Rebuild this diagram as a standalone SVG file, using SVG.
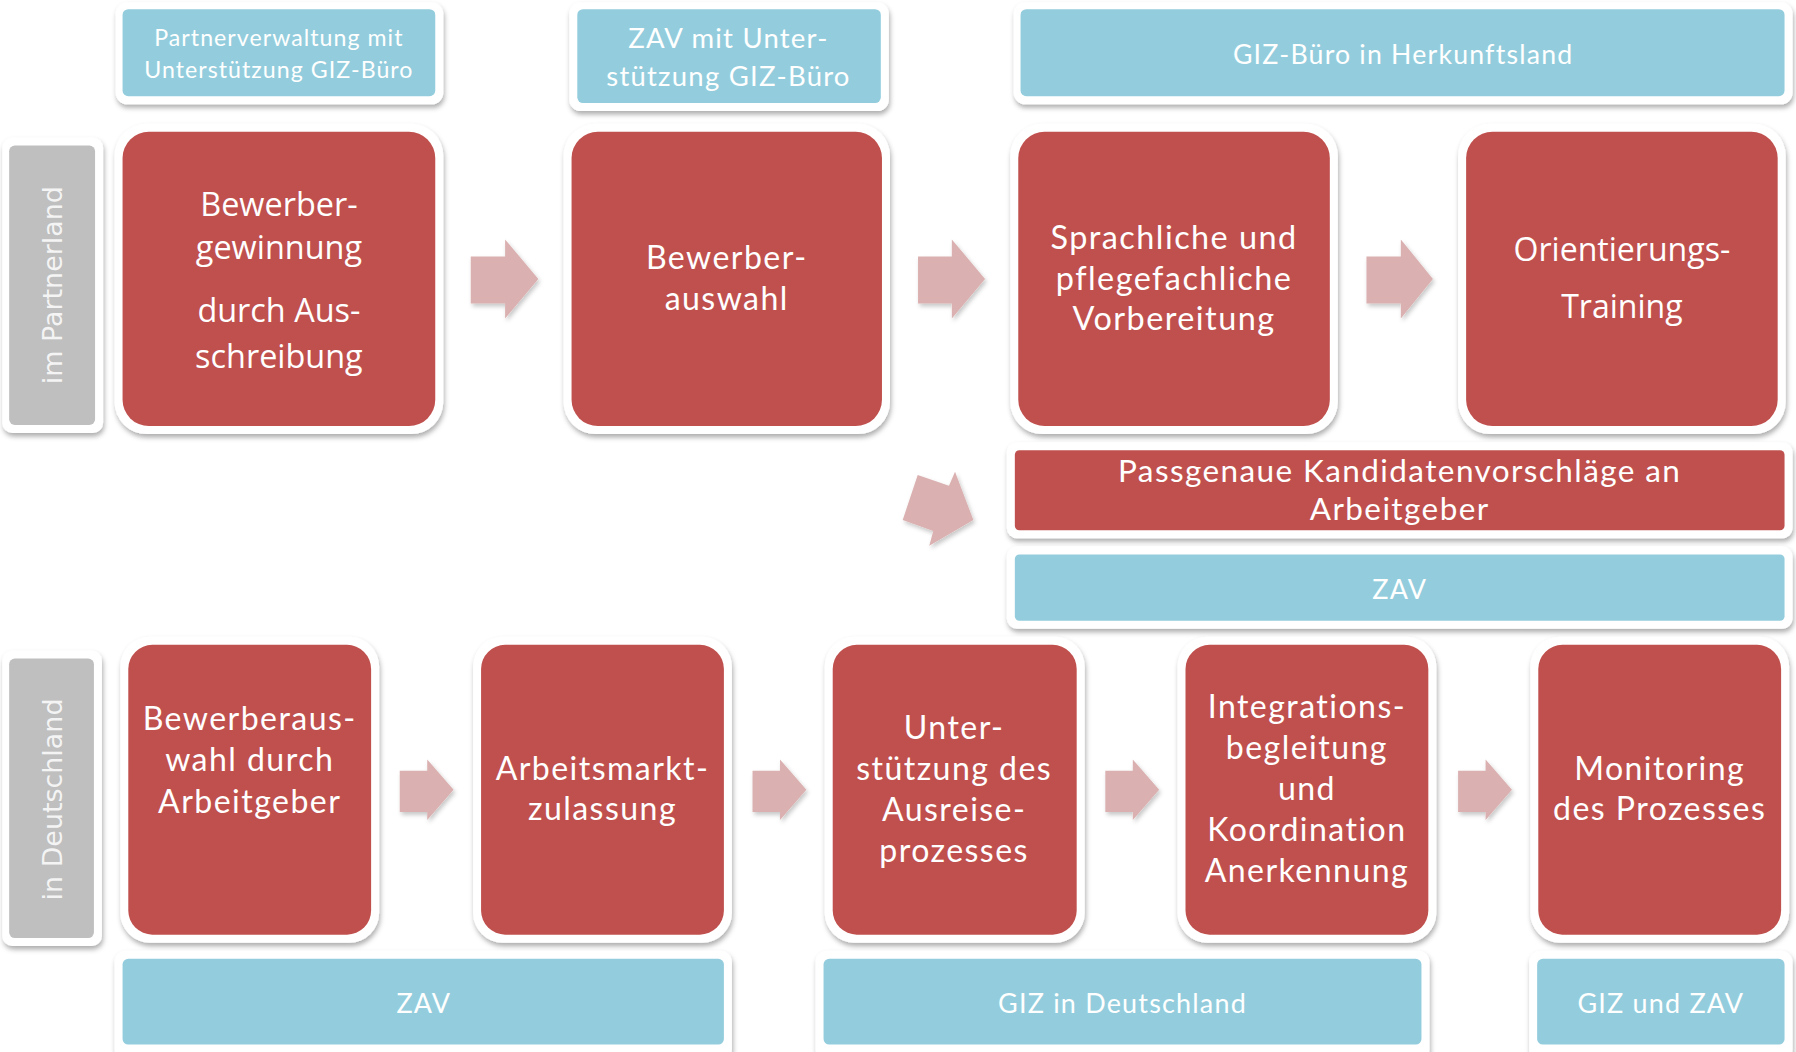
<svg xmlns="http://www.w3.org/2000/svg" width="1796" height="1052" viewBox="0 0 1796 1052">
<defs>
<filter id="sh" x="-10%" y="-10%" width="120%" height="130%">
<feDropShadow dx="1" dy="3" stdDeviation="2.2" flood-color="#000" flood-opacity="0.32"/>
</filter>
<filter id="ash" x="-20%" y="-20%" width="150%" height="150%">
<feDropShadow dx="1.5" dy="2.5" stdDeviation="2" flood-color="#000" flood-opacity="0.22"/>
</filter>
<style>
.frame{fill:#fff;filter:url(#sh)}
.red{fill:#C0504D}
.blue{fill:#93CDDD}
.gray{fill:#BFBFBF}
.t{font-family:Lato,"Liberation Sans",sans-serif;fill:#fff;text-anchor:middle;letter-spacing:0.045em}
.o{font-family:"Open Sans","Liberation Sans",sans-serif;fill:#fff;text-anchor:middle}
.g{font-family:"DejaVu Sans",Verdana,sans-serif;fill:#F4F4F4;text-anchor:middle;font-size:23.5px}
.arrow{fill:#DBB0B0;filter:url(#ash)}
</style>
</defs>
<rect width="1796" height="1052" fill="#fff"/>
<g transform="scale(1.14541)">

<!-- side labels -->
<g id="label-partnerland">
<rect class="frame" x="2" y="120" width="88" height="258" rx="9"/>
<rect class="gray" x="8" y="127" width="75" height="244" rx="5"/>
<text class="g" transform="translate(54,249) rotate(-90)">im Partnerland</text>
</g>
<g id="label-deutschland">
<rect class="frame" x="2" y="568" width="87" height="258" rx="9"/>
<rect class="gray" x="8" y="575" width="74" height="244" rx="5"/>
<text class="g" transform="translate(54,698) rotate(-90)">in Deutschland</text>
</g>

<!-- top responsible boxes -->
<g id="resp-partnerverwaltung">
<rect class="frame" x="101" y="2" width="286" height="89" rx="10"/>
<rect class="blue" x="107" y="8" width="273" height="76" rx="5"/>
<text class="t" font-size="20.2"><tspan x="243.5" y="40">Partnerverwaltung mit</tspan><tspan x="243.5" y="68">Unterstützung GIZ-Büro</tspan></text>
</g>
<g id="resp-zav-giz">
<rect class="frame" x="497" y="2" width="279" height="95" rx="10"/>
<rect class="blue" x="504" y="8" width="265" height="82" rx="5"/>
<text class="t" font-size="24"><tspan x="636" y="42">ZAV mit Unter-</tspan><tspan x="636" y="75">stützung GIZ-Büro</tspan></text>
</g>
<g id="resp-giz-herkunft">
<rect class="frame" x="885" y="2" width="680" height="89" rx="10"/>
<rect class="blue" x="891" y="8" width="667" height="76" rx="5"/>
<text class="t" font-size="23.3" x="1225" y="56">GIZ-Büro in Herkunftsland</text>
</g>

<!-- top process boxes -->
<g id="step-bewerbergewinnung">
<rect class="frame" x="100" y="108" width="287" height="271" rx="28"/>
<rect class="red" x="107" y="115" width="273" height="257" rx="23"/>
<text class="o" font-size="28.3"><tspan x="243.5" y="188.5">Bewerber-</tspan><tspan x="243.5" y="226.5">gewinnung</tspan><tspan x="243.5" y="281.5">durch Aus-</tspan><tspan x="243.5" y="321.5">schreibung</tspan></text>
</g>
<g id="step-bewerberauswahl">
<rect class="frame" x="492" y="108" width="285" height="271" rx="28"/>
<rect class="red" x="499" y="115" width="271" height="257" rx="23"/>
<text class="t" font-size="28"><tspan x="634.5" y="235">Bewerber-</tspan><tspan x="634.5" y="270.5">auswahl</tspan></text>
</g>
<g id="step-vorbereitung">
<rect class="frame" x="882" y="108" width="286" height="271" rx="28"/>
<rect class="red" x="889" y="115" width="272" height="257" rx="23"/>
<text class="t" font-size="28.3"><tspan x="1025" y="217.5">Sprachliche und</tspan><tspan x="1025" y="253">pflegefachliche</tspan><tspan x="1025" y="288.5">Vorbereitung</tspan></text>
</g>
<g id="step-orientierung">
<rect class="frame" x="1273" y="108" width="286" height="271" rx="28"/>
<rect class="red" x="1280" y="115" width="272" height="257" rx="23"/>
<text class="o" font-size="28"><tspan x="1416" y="227.5">Orientierungs-</tspan><tspan x="1416" y="277.5">Training</tspan></text>
</g>

<!-- middle -->
<g id="step-kandidatenvorschlaege">
<rect class="frame" x="879" y="386" width="686" height="84" rx="9"/>
<rect class="red" x="886" y="393" width="672" height="70" rx="4"/>
<text class="t" font-size="27.5"><tspan x="1222" y="420.5">Passgenaue Kandidatenvorschläge an</tspan><tspan x="1222" y="454">Arbeitgeber</tspan></text>
</g>
<g id="resp-zav-mid">
<rect class="frame" x="879" y="477" width="686" height="72" rx="9"/>
<rect class="blue" x="886" y="484" width="672" height="58" rx="4"/>
<text class="t" font-size="23.5" x="1222" y="523">ZAV</text>
</g>

<!-- bottom process boxes -->
<g id="step-auswahl-arbeitgeber">
<rect class="frame" x="105" y="556" width="226" height="267" rx="26"/>
<rect class="red" x="112" y="563" width="212" height="253" rx="21"/>
<text class="t" font-size="28"><tspan x="218" y="637.5">Bewerberaus-</tspan><tspan x="218" y="673.5">wahl durch</tspan><tspan x="218" y="709.5">Arbeitgeber</tspan></text>
</g>
<g id="step-arbeitsmarktzulassung">
<rect class="frame" x="413" y="556" width="226" height="267" rx="26"/>
<rect class="red" x="420" y="563" width="212" height="253" rx="21"/>
<text class="t" font-size="28"><tspan x="526" y="681">Arbeitsmarkt-</tspan><tspan x="526" y="716">zulassung</tspan></text>
</g>
<g id="step-ausreise">
<rect class="frame" x="720" y="556" width="227" height="267" rx="26"/>
<rect class="red" x="727" y="563" width="213" height="253" rx="21"/>
<text class="t" font-size="28"><tspan x="833" y="645">Unter-</tspan><tspan x="833" y="681">stützung des</tspan><tspan x="833" y="717">Ausreise-</tspan><tspan x="833" y="753">prozesses</tspan></text>
</g>
<g id="step-integration">
<rect class="frame" x="1028" y="556" width="226" height="267" rx="26"/>
<rect class="red" x="1035" y="563" width="212" height="253" rx="21"/>
<text class="t" font-size="28"><tspan x="1141" y="627">Integrations-</tspan><tspan x="1141" y="662.5">begleitung</tspan><tspan x="1141" y="698.5">und</tspan><tspan x="1141" y="734.5">Koordination</tspan><tspan x="1141" y="770">Anerkennung</tspan></text>
</g>
<g id="step-monitoring">
<rect class="frame" x="1336" y="556" width="226" height="267" rx="26"/>
<rect class="red" x="1343" y="563" width="212" height="253" rx="21"/>
<text class="t" font-size="28"><tspan x="1449" y="681">Monitoring</tspan><tspan x="1449" y="716">des Prozesses</tspan></text>
</g>

<!-- bottom responsible boxes -->
<g id="resp-zav-bottom">
<rect class="frame" x="100" y="830" width="539" height="96" rx="10"/>
<rect class="blue" x="107" y="837" width="525" height="75" rx="5"/>
<text class="t" font-size="23.5" x="370" y="884">ZAV</text>
</g>
<g id="resp-giz-deutschland">
<rect class="frame" x="712" y="830" width="536" height="96" rx="10"/>
<rect class="blue" x="719" y="837" width="522" height="75" rx="5"/>
<text class="t" font-size="23.5" x="980" y="884">GIZ in Deutschland</text>
</g>
<g id="resp-giz-zav">
<rect class="frame" x="1335" y="830" width="230" height="96" rx="10"/>
<rect class="blue" x="1342" y="837" width="216" height="75" rx="5"/>
<text class="t" font-size="23.5" x="1450" y="884">GIZ und ZAV</text>
</g>

<!-- connectors -->
<g id="connectors">
<polygon class="arrow" points="411,224 441,224 441,209 470,243.5 441,278 441,265 411,265"/>
<polygon class="arrow" points="801.5,224 831,224 831,209 860,243.5 831,278 831,265 801.5,265"/>
<polygon class="arrow" points="1193,224 1223,224 1223,209 1251,243.5 1223,278 1223,265 1193,265"/>
<polygon class="arrow" points="801.2,414.7 828.5,424 833.8,411.8 849.8,454 811.3,476.4 814.8,463.6 788.1,454"/>
<polygon class="arrow" points="349,673 373,673 373,663 396,689.5 373,716 373,709 349,709"/>
<polygon class="arrow" points="657,673 681,673 681,663 704,689.5 681,716 681,709 657,709"/>
<polygon class="arrow" points="965,673 989,673 989,663 1012,689.5 989,716 989,709 965,709"/>
<polygon class="arrow" points="1273,673 1297,673 1297,663 1320,689.5 1297,716 1297,709 1273,709"/>
</g>
</g>
</svg>
